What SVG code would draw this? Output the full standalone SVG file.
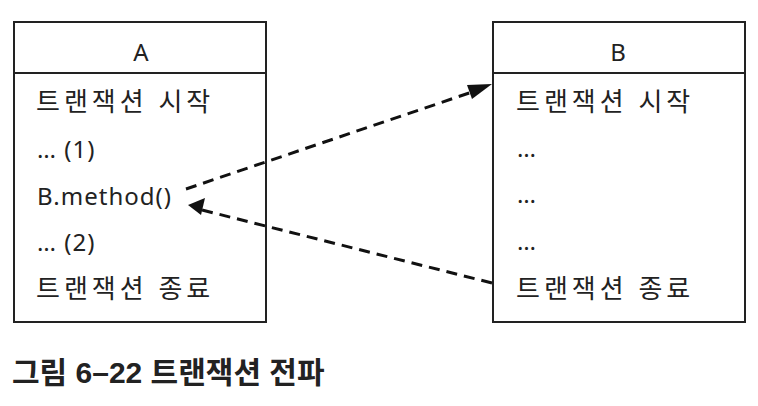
<svg xmlns="http://www.w3.org/2000/svg" width="758" height="406" viewBox="0 0 758 406">
<style>
.box{fill:#fff;stroke:#222;stroke-width:2}
.sep{stroke:#222;stroke-width:2}
.t{font-family:"Noto Sans","Noto Sans CJK KR",sans-serif;font-size:24px;fill:#222;letter-spacing:1px}
.k{font-family:"Noto Sans","Noto Sans CJK KR",sans-serif;font-size:26px;fill:#222;letter-spacing:4px}
.h{font-family:"Noto Sans","Noto Sans CJK KR",sans-serif;font-size:24px;fill:#222;text-anchor:middle}
.cap{font-family:"Liberation Sans","Noto Sans CJK KR",sans-serif;font-size:30px;font-weight:bold;fill:#222}
.con{fill:none;stroke:#111;stroke-width:3;stroke-dasharray:11 7}
</style>
<g id="nodeA">
<rect class="box" x="14" y="22" width="252" height="300"/>
<line class="sep" x1="14" y1="73" x2="266" y2="73"/>
<text class="h" x="141" y="61">A</text>
<text class="k" x="36" y="111">트랜잭션 시작</text>
<text class="t" x="37" y="158">… (1)</text>
<text class="t" x="37" y="205">B.method()</text>
<text class="t" x="37" y="251">… (2)</text>
<text class="k" x="36" y="298">트랜잭션 종료</text>
</g>
<g id="nodeB">
<rect class="box" x="493" y="22" width="252" height="300"/>
<line class="sep" x1="493" y1="73" x2="745" y2="73"/>
<text class="h" x="618" y="61">B</text>
<text class="k" x="516" y="111">트랜잭션 시작</text>
<text class="t" x="517" y="157">…</text>
<text class="t" x="517" y="203">…</text>
<text class="t" x="517" y="250">…</text>
<text class="k" x="516" y="298">트랜잭션 종료</text>
</g>
<g id="connectors">
<line class="con" x1="186" y1="189" x2="478" y2="90"/>
<polygon points="492,84 472,99 467,85" fill="#111"/>
<line class="con" x1="492" y1="283" x2="202" y2="210"/>
<polygon points="188,205 205,198 201,215" fill="#111"/>
</g>
<text class="cap" x="12" y="383">그림 6–22 트랜잭션 전파</text>
</svg>
